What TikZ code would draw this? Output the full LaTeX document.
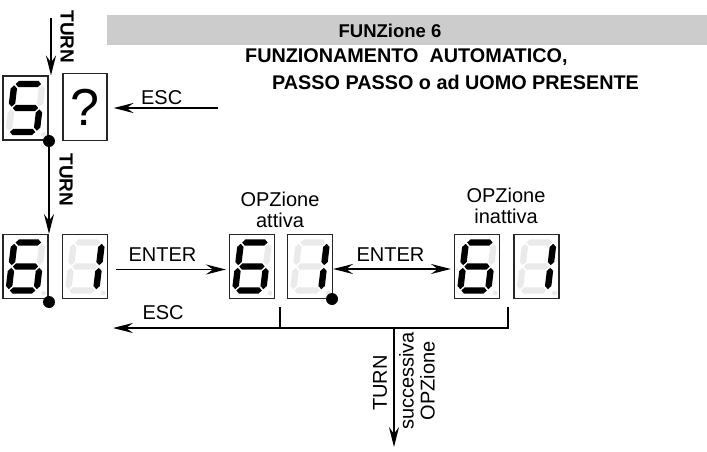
\documentclass[tikz,border=0pt]{standalone}
\usepackage{fontspec}
\setmainfont{Liberation Sans}
\usepackage{tikz}
\usetikzlibrary{arrows.meta}
\definecolor{SegGray}{RGB}{234,234,234}
\definecolor{HeadGray}{RGB}{204,204,204}

% seven segment digit inside a display node: #1 node, #2 flags for segments a..g
\newcommand{\segdigit}[2]{%
  \begin{scope}[shift={(#1.center)}, xslant=0.12]
    \foreach \s/\x/\y/\o [count=\i from 0] in {a/0/-24/h, b/14/-12/v,
        c/14/12/v, d/0/24/h, e/-14/12/v, f/-14/-12/v, g/0/0/h} {
      \pgfmathtruncatemacro\lit{{#2}[\i]}
      \ifnum\lit=1 \def\segcol{black}\else\def\segcol{SegGray}\fi
      \if h\o
        \fill[\segcol] (\x-12.7,\y) -- (\x-9.7,\y-3.2) -- (\x+9.7,\y-3.2)
          -- (\x+12.7,\y) -- (\x+9.7,\y+3.2) -- (\x-9.7,\y+3.2) -- cycle;
      \else
        \fill[\segcol] (\x,\y-10.7) -- (\x+3.2,\y-7.5) -- (\x+3.2,\y+7.5)
          -- (\x,\y+10.7) -- (\x-3.2,\y+7.5) -- (\x-3.2,\y-7.5) -- cycle;
      \fi
    }
  \end{scope}
  \fill[SegGray] ([shift={(-5,-6)}]#1.south east) circle[radius=2.5pt];}

\begin{document}
\begin{tikzpicture}[x=1pt, y=-1pt,
    >={Stealth[length=20pt, width=10pt, inset=7pt]},
    disp/.style={draw=black!85, line width=1.1pt, minimum width=45pt,
                 minimum height=64pt, inner sep=0pt},
    dpdot/.style={circle, fill=black, minimum size=12pt, inner sep=0pt},
    arr/.style={->, line width=1.8pt},
    lbl/.style={font=\fontsize{20}{21}\selectfont, inner sep=2pt},
    turnlbl/.style={font=\bfseries\fontsize{19}{21}\selectfont, inner sep=0pt},
    head/.style={font=\bfseries\fontsize{19.8}{21}\selectfont, inner sep=0pt}
  ]
  \useasboundingbox (0,0) rectangle (707,452);

  \node[fill=HeadGray, minimum width=600pt, minimum height=30pt,
        inner sep=0pt, anchor=north west] (bar) at (107,15) {};
  \node[head, font=\bfseries\fontsize{18.5}{21}\selectfont] (title) at (390,31) {FUNZione 6};
  \node[head, anchor=west] (line1) at (245,57) {FUNZIONAMENTO\ \ AUTOMATICO,};
  \node[head, anchor=west] (line2) at (272,82) {PASSO PASSO o ad UOMO PRESENTE};

  \node[disp] (disp5) at (25.5,108) {};
  \node[disp, minimum width=44pt, minimum height=67pt,
        font=\fontsize{52}{52}\selectfont] (dispq) at (85,107) {?};
  \segdigit{disp5}{1,0,1,1,0,1,1}
  \node[dpdot] (dp5) at (49,141) {};

  \node[disp] (disp6a) at (25.5,266.5) {};
  \node[disp] (disp1a) at (85,266.5) {};
  \node[disp] (disp6b) at (252,266.5) {};
  \node[disp] (disp1b) at (310,266.5) {};
  \node[disp] (disp6c) at (477,266.5) {};
  \node[disp] (disp1c) at (536.5,266.5) {};
  \segdigit{disp6a}{1,0,1,1,1,1,1}
  \segdigit{disp1a}{0,1,1,0,0,0,0}
  \segdigit{disp6b}{1,0,1,1,1,1,1}
  \segdigit{disp1b}{0,1,1,0,0,0,0}
  \segdigit{disp6c}{1,0,1,1,1,1,1}
  \segdigit{disp1c}{0,1,1,0,0,0,0}
  \node[dpdot] (dp6) at (49,302) {};
  \node[dpdot] (dp1) at (332,299) {};

  \node[lbl, align=center] (optatt) at (280,210) {OPZione\\attiva};
  \node[lbl, align=center] (optinatt) at (506,206) {OPZione\\inattiva};

  \coordinate (turnin) at (51,18);
  \coordinate (escin) at (218,108);
  \coordinate (brk1) at (280,307);
  \coordinate (brk2) at (508,307);
  \coordinate (escout) at (113,328);
  \coordinate (turnout) at (394,447);

  \draw[arr] (turnin) -- (turnin |- disp5.north);
  \node[turnlbl, rotate=-90] (turn1) at (67,37) {TURN};
  \draw[arr, shorten >=6pt] (escin) -- (escin -| dispq.east)
        node[lbl, pos=0.51, above] {ESC};
  \draw[arr] (dp5) -- (dp5 |- disp6a.north);
  \node[turnlbl, rotate=-90] (turn2) at (66,180) {TURN};

  \draw[arr, shorten <=8pt, shorten >=3pt]
        ([yshift=-3pt]disp1a.east) -- ([yshift=-3pt]disp6b.west)
        node[lbl, pos=0.45, above=5pt] {ENTER};
  \draw[arr, <->, shorten >=3pt]
        ([yshift=-2.5pt]disp1b.east) -- ([yshift=-2.5pt]disp6c.west)
        node[lbl, pos=0.475, above=5pt] {ENTER};

  \draw[line width=1.8pt] (brk1) -- (brk1 |- escout) -| (brk2);
  \draw[arr] (brk1 |- escout) -- (escout) node[lbl, pos=0.7, above=5pt] {ESC};
  \draw[arr] (turnout |- escout) -- (turnout);
  \node[lbl, rotate=90] (turn3) at (380,383) {TURN};
  \node[lbl, rotate=90, align=center] (succ) at (417,381) {successiva\\OPZione};
\end{tikzpicture}
\end{document}
